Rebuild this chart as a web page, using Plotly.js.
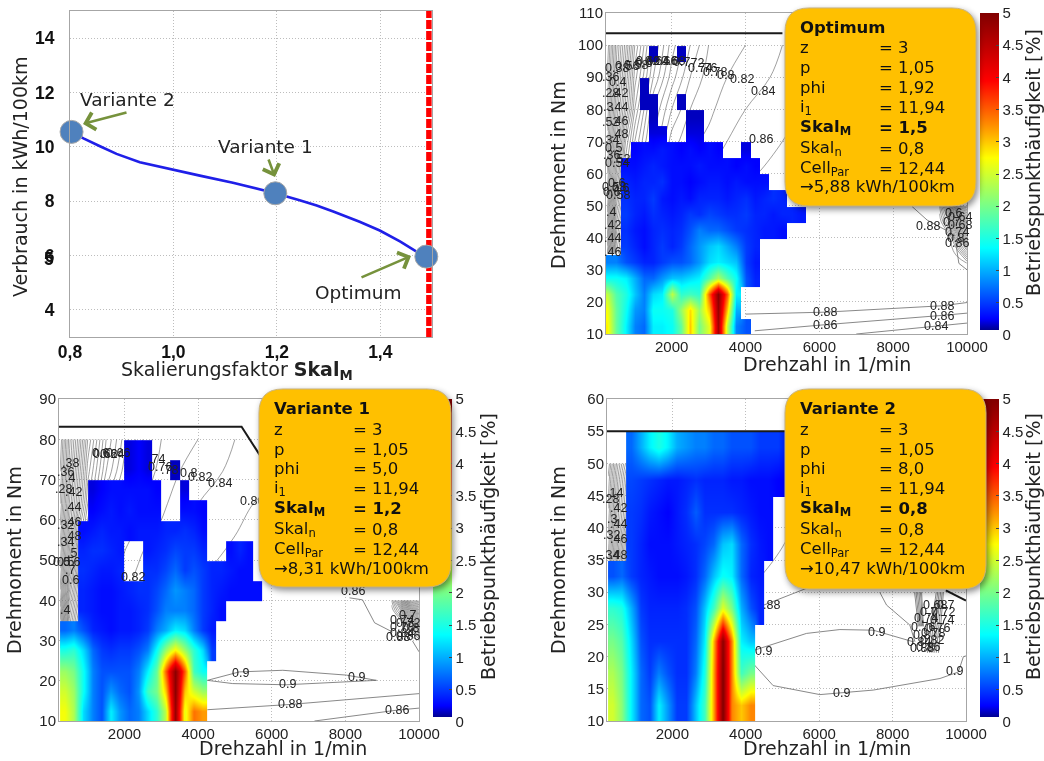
<!DOCTYPE html>
<html><head><meta charset="utf-8">
<script src="https://cdn.plot.ly/plotly-3.0.1.min.js"></script>
<style>
html,body{margin:0;padding:0;background:#fff;width:1044px;height:761px;overflow:hidden}
#chart,#boxes{position:absolute;left:0;top:0;width:1044px;height:761px}
#boxes{pointer-events:none}
#boxes .shapelayer{filter:drop-shadow(2px 3px 3px rgba(0,0,0,.45))}
#chart,#boxes{filter:blur(.35px)}
</style></head><body>
<div id="chart"></div><div id="boxes"></div>
<script>
const _ = null;
/* ---------- consumption curve ---------- */
const skalX = [0.803,0.826,0.858,0.89,0.935,1.0,1.051,1.115,1.197,1.244,1.277,1.309,1.36,1.399,1.438,1.47,1.489];
const verbrauchY = [10.55,10.31,10.02,9.74,9.43,9.14,8.94,8.68,8.29,8.03,7.84,7.62,7.24,6.92,6.52,6.14,5.96];
const pointX = [0.803,1.197,1.489];
const pointY = [10.55,8.29,5.96];
/* ---------- operating-point frequency maps ---------- */
const speedGrid = [250,500,750,1000,1250,1500,1750,2000,2250,2500,2750,3000,3250,3500,3750,4000,4250,4500,4750,5000,5250,5500,5750,6000];
const torqueOpt = [12.5,17.5,22.5,27.5,32.5,37.5,42.5,47.5,52.5,57.5,62.5,67.5,72.5,77.5,82.5,87.5,92.5,97.5,102.5];
const freqOpt = [
[2.8,1.9,1.3,.8,.7,1.3,1.3,1.4,1.9,3.0,2.0,2.6,4.7,2.4,.8,.6,_],
[2.7,1.9,1.4,.9,.8,1.4,1.4,1.5,2.2,2.9,2.2,3.0,4.8,3.0,1.0,_,_],
[2.4,1.8,1.5,1.1,.8,1.2,1.3,2.4,1.6,1.7,1.6,3.5,4.9,3.5,1.3,_,_],
[1.4,1.4,1.3,1.0,.7,.7,.9,1.1,1.1,1.2,1.3,1.8,2.3,1.8,1.4,.6,.4,_],
[.8,.8,.6,.5,.4,.4,.5,.6,.6,.7,.9,1.2,1.3,1.2,1.1,.5,.35,_],
[_,_,.5,.4,.3,.4,.5,.4,.5,.7,.9,1.1,1.2,1.0,.8,.5,.4,_],
[_,_,.45,.35,.3,.4,.45,.4,.45,.6,.8,.7,.7,.6,.5,.45,.4,.35,.35,.3,_],
[_,_,.5,.4,.35,.45,.4,.35,.4,.5,.45,.55,.5,.45,.45,.5,.4,.4,.35,.4,.4,.35,_,_],
[_,_,.45,.4,.4,.5,.35,.3,.35,.3,.4,.4,.4,.35,.4,.45,.35,.4,.45,.4,_],
[_,_,.4,.35,.4,.4,.45,.3,.3,.25,.3,.35,.35,.3,.35,.3,.3,.3,_],
[_,_,.3,.3,.35,.4,.35,.3,.3,.3,.35,.3,.3,.3,.25,.3,.25,_],
[_,_,_,.25,.3,.3,.35,.3,.25,.3,.25,.3,.25,_,_,.2,_],
[_,_,_,_,_,.2,.2,_,_,.2,.2,_],
[_,_,_,_,_,.15,_,_,_,.15,.15,_],
[_,_,_,_,.15,.15,_,_,.15,_],
[_,_,_,_,.15,_],
[_,_,_,_,_,_],
[_,_,_,_,_,.15,_,_,.15,_],
[_,_,_,_,_,_]];
const torqueV1 = [12.5,17.5,22.5,27.5,32.5,37.5,42.5,47.5,52.5,57.5,62.5,67.5,72.5,77.5,82.5];
const freqV1 = [
[2.7,2.3,1.2,.8,.6,1.3,.9,.7,.8,1.2,1.6,2.4,4.8,2.6,3.4,3.2,_],
[2.5,2.2,1.4,.8,.6,.9,.7,.6,.9,1.7,2.0,3.0,4.9,3.0,2.5,2.2,_],
[2.2,2.0,1.4,.8,.6,.6,.6,.6,.8,1.3,1.9,3.5,4.9,3.5,1.7,1.4,_],
[1.5,1.6,1.2,.7,.5,.45,.5,.5,.6,.8,1.4,2.2,2.8,2.2,1.6,1.2,.5,_],
[.7,.8,.6,.4,.35,.3,.35,.35,.4,.5,.8,1.0,1.3,1.2,.8,.5,.35,_],
[_,_,.4,.35,.3,.3,.35,.35,.4,.45,.6,.8,.8,.8,.7,.5,.4,.3,_],
[_,_,.4,.35,.3,.3,.35,.4,.45,.45,.55,.7,.9,.8,.7,.5,.4,.35,.3,.3,.3,.3,_],
[_,_,.45,.4,.35,.35,.4,_,_,.45,.45,.55,.7,.5,.6,.5,.4,.4,.35,.3,.3,_],
[_,_,.4,.45,.45,.4,.35,_,_,.35,.4,.45,.55,.5,.5,.4,_,_,.3,.4,.3,_],
[_,_,.3,.35,.4,.35,.35,.3,.35,.35,.35,.4,.4,.45,.4,.3,_],
[_,_,_,.25,.3,.35,.3,.35,.3,.3,.3,_,_,.3,.3,.25,_],
[_,_,_,.2,.25,.3,.3,.3,.3,.3,.25,_,_,.2,_],
[_,_,_,_,_,_,_,.2,.25,.2,_,_,.15,_],
[_,_,_,_,_,_,_,.2,.25,.2,_],
[_,_,_,_,_,_,_,_,_,_]];
const torqueV2 = [12.5,17.5,22.5,27.5,32.5,37.5,42.5,47.5,52.5,57.5];
const freqV2 = [
[2.5,2.1,1.3,.7,.6,1.3,.9,.5,.5,1.1,1.7,3.2,5,3.3,3.0,3.3,_],
[2.3,2.0,1.3,.7,.5,.8,.6,.45,.45,.8,1.5,3.2,5,3.3,1.7,2.0,_],
[2.0,1.8,1.2,.6,.45,.45,.45,.45,.45,.7,1.3,3.1,4.9,3.3,1.3,1.1,_],
[1.6,1.5,1.0,.5,.4,.4,.4,.4,.45,.6,1.1,1.7,2.6,2.0,1.0,.6,.4,_],
[.6,.7,.5,.4,.35,.3,.3,.3,.35,.45,.7,1.1,1.4,1.3,.7,.4,.35,_],
[_,_,.5,.4,.3,.3,.3,.35,.4,.45,.55,.7,1.1,1.2,.7,.45,.35,.3,_],
[_,_,.5,.45,.35,.3,.25,.35,.45,.65,.45,.45,.45,.45,.4,.35,.3,.3,_],
[_,_,.55,.5,.45,.4,.35,.35,.4,.45,.4,.4,.4,.35,.35,.3,.3,.3,.25,.25,.25,_],
[_,_,.7,1.0,1.3,1.5,1.3,1.0,.9,.8,.8,.7,.7,.6,.6,.6,.5,.5,.5,.4,.4,_],
[_,_,_,_,_,_]];
/* ---------- efficiency map read-outs ---------- */
const effSpeed = [250,500,750,1000,1500,2000,2500,3000,3500,4000,5000,6000];
const effValues = [
[.40,.62,.72,.79,.82,.85,.87,.88,.88,.89,.89,.89],
[.36,.59,.70,.76,.815,.84,.855,.87,.875,.88,.89,.89],
[.31,.52,.64,.71,.80,.82,.84,.85,.86,.87,.88,.88],
[.28,.44,.58,.66,.76,.81,.825,.84,.85,.855,.87,.88],
[.25,.40,.54,.62,.72,.79,.815,.825,.84,.85,.86,.87],
[.22,.36,.47,.58,.70,.76,.80,.815,.83,.84,.855,.865],
[.20,.33,.44,.55,.66,.73,.78,.81,.82,.83,.845,.855],
[.18,.31,.41,.52,.64,.71,.76,.80,.81,.82,.84,.85]];
const effTorqueOpt = [35,40,50,60,70,80,90,100];
const effTorqueV1 = [28,32,40,48,56,64,72,80];
const effTorqueV2 = [18,21,27,32,37,43,48,50];
const edgeSpeed = [9250,9500,9750,10000];
const edgeValues = [
[.89,.89,.88,.86],
[.89,.88,.84,.74],
[.89,.86,.72,.56],
[.88,.78,.58,.40],
[.84,.68,.44,.28]];
const edgeTorqueOpt = [32,36,41,45,50];
const edgeTorqueV1 = [30,32.5,35,37.5,40];
/* single iso-lines outside the fans */
const isoOpt = [
 [[4000,6160,9330,10000],[16.2,16.8,18.8,19.8]],
 [[4250,6160,9330,10000],[11,12.9,15.8,16.5]],
 [[7000,9180,10000],[10,12.5,13.4]],
 [[8513,8920,9420],[49.7,45.5,42.4]],
 [[9700,9780,10000],[38,32,30]]];
const isoV1 = [
 [[4250,5118,6300,8027,8845],[20.1,22.2,22.6,21.4,20.1]],
 [[4250,4936,6390,8027,8845],[20.1,19.3,19,19.7,20.1]],
 [[4250,6480,10000],[12.8,14.1,16.8]],
 [[7160,9410,10000],[10,12.7,13.2]],
 [[8112,8466,8793,9284],[40.6,40.1,34.4,32.1]],
 [[9822,10000],[29.9,27.2]]];
const isoV2 = [
 [[4236,5655,6564,7473,8564],[21,23.6,24.2,24.1,22.3]],
 [[4236,4745,6020,7473,9290,9790,9930,10000],[18.7,15.5,14.1,14.8,16.6,17.6,20,20.1]],
 [[4490,5655],[28,30.6]],
 [[7650,7836,8470,8610],[30,28,24.9,22.3]],
 [[8600,8700],[30,24.7]],[[8640,8730],[30,24.7]],[[8680,8760],[30,24.7]],[[8720,8790],[30,24.7]],[[8760,8820],[30,24.7]],[[8790,8840],[30,24.7]],
 [[9190,8950],[30,20.6]],[[9230,9010],[30,20.6]],[[9270,9070],[30,20.6]],[[9310,9130],[30,20.6]],[[9350,9190],[30,20.6]],[[9385,9250],[30,20.6]]];
/* torque limit */
const limitOpt = [[220,5000],[103.7,103.7]];
const limitV1 = [[220,5180,5645,5900],[83.1,83.1,76.5,73]];
const limitV2a = [[220,5200],[55,55]];
const limitV2b = [[9450,10000],[30.3,28.7]];
/* texts */
const boxHeads = ['Optimum','Variante 1','Variante 2'];
const boxPhi = ['1,92','5,0','8,0'];
const boxSkal = ['1,5','1,2','0,8'];
const boxResult = ['5,88','8,31','10,47'];
const boxKeys = ['z','p','phi','i<sub>1</sub>','<b>Skal<sub>M</sub></b>','Skal<sub>n</sub>','Cell<sub>Par</sub>'];
const ticksSkal = [0.8,1.0,1.2,1.4];
const ticksSkalText = ['0,8','1,0','1,2','1,4'];

/* contour-label placements, given in zoomed (3x) panel coordinates */
const labelsOpt = [[230,205,'0.38'],[212,232,'.36'],[232,245,'0.4'],[210,280,'.28'],[238,280,'.42'],[203,322,'.3'],[238,322,'.44'],[212,365,'.52'],[238,362,'.46'],[238,402,'.48'],[212,420,'.34'],[220,445,'0.5'],[213,465,'.36'],[245,478,'.52'],[232,490,'0.54'],[228,548,'0.6'],[222,560,'0.58'],[240,565,'0.6'],[215,575,'0.6'],[235,585,'0.58'],[214,637,'.4'],[217,675,'.42'],[218,715,'.44'],[218,755,'.46'],[262,197,'0.56'],[288,195,'0.58'],[310,190,'0.6'],[325,183,'0.62'],[350,183,'0.64'],[375,183,'0.66'],[400,183,'0.68'],[425,186,'0.7'],[465,188,'.72'],[480,205,'0.74'],[505,205,'.76'],[525,215,'0.78'],[555,225,'0.8'],[607,236,'0.82'],[668,274,'0.84'],[663,416,'0.86'],[1165,677,'0.88'],[855,937,'0.88'],[855,975,'0.86'],[1205,918,'0.88'],[1205,947,'0.86'],[1188,979,'0.84'],[1240,640,'0.6'],[1260,650,'0.64'],[1235,665,'0.7'],[1260,675,'0.68'],[1250,695,'0.74'],[1245,715,'0.8'],[1250,730,'0.86']];
const labelsV1 = [[300,205,'0.6'],[315,208,'0.62'],[335,207,'0.64'],[355,205,'0.66'],[212,235,'.38'],[195,262,'.36'],[210,278,'.4'],[190,312,'.28'],[220,320,'.42'],[218,365,'.44'],[218,410,'.46'],[195,420,'.32'],[218,452,'.48'],[195,470,'.34'],[215,505,'.5'],[195,530,'0.5'],[215,530,'0.6'],[185,530,'0.5'],[210,555,'.7'],[210,585,'0.6'],[195,675,'.4'],[470,222,'.74'],[480,245,'0.76'],[510,255,'.78'],[565,265,'0.8'],[600,275,'0.82'],[660,293,'0.84'],[755,347,'0.86'],[400,575,'0.82'],[1060,618,'0.86'],[720,865,'0.9'],[1068,875,'0.9'],[862,898,'0.9'],[870,958,'0.88'],[1192,975,'0.86'],[1222,690,'0.7'],[1205,705,'0.74'],[1225,715,'0.72'],[1205,725,'0.78'],[1230,730,'0.8'],[1205,745,'0.84'],[1225,752,'0.86'],[1195,755,'0.88']];
const labelsV2 = [[222,325,'.14'],[212,342,'.28'],[235,370,'.42'],[215,402,'.3'],[235,418,'.44'],[215,450,'.32'],[235,463,'.46'],[235,510,'.48'],[212,510,'.34'],[695,660,'.88'],[1010,742,'0.9'],[670,797,'0.9'],[903,925,'0.9'],[1243,858,'0.9'],[1185,660,'0.68'],[1215,660,'0.7'],[1165,680,'0.7'],[1210,680,'0.72'],[1158,700,'0.74'],[1205,705,'0.74'],[1150,725,'0.76'],[1195,730,'0.76'],[1180,745,'0.78'],[1143,750,'0.8'],[1175,765,'0.82'],[1138,770,'0.84'],[1165,785,'0.86'],[1145,788,'0.88']];

/* ---------- helpers ---------- */
const W = 1044, H = 761;
const dx = (a,b)=>[a/W,b/W];
const dy = (top,bot)=>[1-bot/H,1-top/H];
const FS = 'DejaVu Sans', FT = 'Liberation Sans';
const jet = [[0,'#ffffff'],[0.014,'#ffffff'],[0.015,'#00008f'],[0.05,'#0000ff'],[0.27,'#00ffff'],[0.41,'#80ff80'],[0.55,'#ffff00'],[0.65,'#ff9000'],[0.79,'#ff0000'],[1,'#800000']];
const FRAME = '#a6a6a6', GRID = '#bdbdbd';

function baseAxis(domain, range, extra){
  return Object.assign({domain, range, anchor:'free', showline:true, mirror:true, linecolor:FRAME, linewidth:1,
    showgrid:true, gridcolor:GRID, griddash:'1px,2px', gridwidth:1, zeroline:false, ticks:'',
    tickfont:{family:FT,size:15,color:'#222'}}, extra);
}
function overAxis(domain, range, over){
  return {domain, range, overlaying:over, visible:false, showgrid:false, zeroline:false};
}
const layout = {width:W, height:H, margin:{l:0,r:0,t:0,b:0}, paper_bgcolor:'#fff', plot_bgcolor:'#fff', showlegend:false, annotations:[]};
const traces = [];

/* panel 1 */
layout.xaxis = baseAxis(dx(70,432),[0.8,1.5],{anchor:'y',tickvals:ticksSkal,ticktext:ticksSkalText,ticklabelstandoff:-1,tickfont:{family:FT,size:17.5,color:'#111',weight:'bold'}});
layout.yaxis = baseAxis(dy(11,337),[3,15],{anchor:'x',tickvals:[4,6,8,10,12,14],ticklabelstandoff:11,tickfont:{family:FT,size:17.5,color:'#111',weight:'bold'}});
traces.push({type:'scatter',mode:'lines',x:[1.494,1.494],y:[3,15],xaxis:'x',yaxis:'y',line:{color:'#ff0000',width:5.5,dash:'9px,2px'},hoverinfo:'skip'});
traces.push({type:'scatter',mode:'lines',x:skalX,y:verbrauchY,xaxis:'x',yaxis:'y',line:{color:'#1f1fe8',width:2.6},hoverinfo:'skip'});
traces.push({type:'scatter',mode:'markers',x:pointX,y:pointY,xaxis:'x',yaxis:'y',cliponaxis:false,marker:{size:23,color:'#4f81bd',line:{color:'#a8a8a8',width:1}},hoverinfo:'skip'});

/* map panels */
const panels = [
 {ax:2,ov:5,px:[606,967],py:[13,334],yr:[10,110],yt:[10,20,30,40,50,60,70,80,90,100,110],tq:torqueOpt,fq:freqOpt,
  effY:effTorqueOpt,edgeY:edgeTorqueOpt,iso:isoOpt,lim:[limitOpt],cb:[980,13,322]},
 {ax:3,ov:6,px:[59,419],py:[399,721],yr:[10,90],yt:[10,20,30,40,50,60,70,80,90],tq:torqueV1,fq:freqV1,
  effY:effTorqueV1,edgeY:edgeTorqueV1,iso:isoV1,lim:[limitV1],cb:[433,399,323]},
 {ax:4,ov:7,px:[607,966],py:[399,721],yr:[10,60],yt:[10,15,20,25,30,35,40,45,50,55,60],tq:torqueV2,fq:freqV2,
  effY:effTorqueV2,edgeY:null,iso:isoV2,lim:[limitV2a,limitV2b],cb:[980,399,323]}
];
const grey = [[0,'#5f5f5f'],[1,'#5f5f5f']];
panels.forEach(p=>{
  const xr=[220,10000], xn='x'+p.ax, yn='y'+p.ax, xo='x'+p.ov, yo='y'+p.ov;
  layout['xaxis'+p.ax]=baseAxis(dx(p.px[0],p.px[1]),xr,{anchor:yn,tickvals:[2000,4000,6000,8000,10000],ticktext:['2000','4000','6000','8000','10000'],ticklabelstandoff:-1});
  layout['yaxis'+p.ax]=baseAxis(dy(p.py[0],p.py[1]),p.yr,{anchor:xn,tickvals:p.yt,ticklabelstandoff:-1});
  layout['xaxis'+p.ov]=overAxis(dx(p.px[0],p.px[1]),xr,xn);
  layout['yaxis'+p.ov]=overAxis(dy(p.py[0],p.py[1]),p.yr,yn);
  const cLine={width:.6};
  traces.push({type:'contour',x:effSpeed,y:p.effY,z:effValues,xaxis:xn,yaxis:yn,showscale:false,hoverinfo:'skip',autocontour:false,colorscale:grey,
    contours:{coloring:'lines',start:.18,end:.86,size:.02,showlabels:false},line:cLine});
  if(p.edgeY) traces.push({type:'contour',x:edgeSpeed,y:p.edgeY,z:edgeValues,xaxis:xn,yaxis:yn,showscale:false,hoverinfo:'skip',autocontour:false,colorscale:grey,
    contours:{coloring:'lines',start:.3,end:.86,size:.02,showlabels:false},line:cLine});
  p.iso.forEach(l=>traces.push({type:'scatter',mode:'lines',x:l[0],y:l[1],xaxis:xn,yaxis:yn,line:{color:'#6a6a6a',width:.8},hoverinfo:'skip'}));
  traces.push({type:'heatmap',x:speedGrid,y:p.tq,z:p.fq,xaxis:xo,yaxis:yo,zmin:0,zmax:5,zsmooth:'best',colorscale:jet,hoverinfo:'skip',
    colorbar:{x:p.cb[0]/W,xanchor:'left',xpad:0,ypad:0,y:1-(p.cb[1]+p.cb[2])/H,yanchor:'bottom',len:p.cb[2],lenmode:'pixels',thickness:19,thicknessmode:'pixels',
      outlinewidth:0,tickvals:[0,.5,1,1.5,2,2.5,3,3.5,4,4.5,5],ticktext:['0','0.5','1','1.5','2','2.5','3','3.5','4','4.5','5'],ticks:'inside',ticklen:3,tickcolor:'#444',
      tickfont:{family:FT,size:15,color:'#222'}}});
  p.lim.forEach(l=>traces.push({type:'scatter',mode:'lines',x:l[0],y:l[1],xaxis:xo,yaxis:yo,line:{color:'#1a1a1a',width:2},hoverinfo:'skip'}));
});

/* annotations */
const A = layout.annotations;
function txt(px,py,text,size,family,opts){
  A.push(Object.assign({xref:'paper',yref:'paper',x:px/W,y:1-py/H,text,showarrow:false,xanchor:'center',yanchor:'middle',
    font:{family,size,color:'#222'}},opts||{}));
}
[[labelsOpt,540,0],[labelsV1,0,385],[labelsV2,540,385]].forEach(([list,ox,oy])=>{
  list.forEach(l=>txt(ox+l[0]/3,oy+l[1]/3,l[2],12.5,FT));
});
txt(237,370,'Skalierungsfaktor <b>Skal<sub>M</sub></b>',19,FS);
txt(20,177,'Verbrauch in kWh/100km',19,FS,{textangle:-90});
txt(827,364,'Drehzahl in 1/min',19,FS);
txt(283,748,'Drehzahl in 1/min',19,FS);
txt(827,748,'Drehzahl in 1/min',19,FS);
txt(558,175,'Drehmoment in Nm',19,FS,{textangle:-90});
txt(14,560,'Drehmoment in Nm',19,FS,{textangle:-90});
txt(558,560,'Drehmoment in Nm',19,FS,{textangle:-90});
txt(1033,163,'Betriebspunkthäufigkeit [%]',19,FS,{textangle:-90});
txt(488,547,'Betriebspunkthäufigkeit [%]',19,FS,{textangle:-90});
txt(1033,547,'Betriebspunkthäufigkeit [%]',19,FS,{textangle:-90});
txt(127,100,'Variante 2',18.5,FS);
txt(265,146,'Variante 1',18.5,FS);
txt(358,292,'Optimum',18.5,FS);
txt(49,259,'5',17.5,FT,{font:{family:FT,size:17.5,color:'#111',weight:'bold'}});
function arrow(tx,ty,hx,hy){
  A.push({xref:'paper',yref:'paper',x:hx/W,y:1-hy/H,axref:'pixel',ayref:'pixel',ax:tx-hx,ay:ty-hy,text:'',showarrow:true,
    arrowhead:4,arrowsize:1.3,arrowwidth:2.6,arrowcolor:'#76923c'});
}
arrow(128,112,83,124);
arrow(268,158,275,177);
arrow(360,278,411,256);

Plotly.newPlot('chart',traces,layout,{displayModeBar:false,staticPlot:true});

/* info boxes in their own layer above the colour bars */
const boxGeom = [[785,8,976,206,798,877],[259,389,451,587,272,351],[785,389,986,589,798,877]];
const lineOffs = [19,40,60,79,99,119,140,160,179];
const L2 = {width:W,height:H,margin:{l:0,r:0,t:0,b:0},paper_bgcolor:'rgba(0,0,0,0)',plot_bgcolor:'rgba(0,0,0,0)',
  xaxis:{visible:false},yaxis:{visible:false},shapes:[],annotations:[]};
function rr(x0,y0,x1,y1,r){
  const X=v=>(v/W).toFixed(5),Y=v=>(1-v/H).toFixed(5);
  return `M${X(x0+r)},${Y(y0)}L${X(x1-r)},${Y(y0)}Q${X(x1)},${Y(y0)} ${X(x1)},${Y(y0+r)}L${X(x1)},${Y(y1-r)}Q${X(x1)},${Y(y1)} ${X(x1-r)},${Y(y1)}L${X(x0+r)},${Y(y1)}Q${X(x0)},${Y(y1)} ${X(x0)},${Y(y1-r)}L${X(x0)},${Y(y0+r)}Q${X(x0)},${Y(y0)} ${X(x0+r)},${Y(y0)}Z`;
}
boxGeom.forEach((g,i)=>{
  const [x0,y0,x1,y1,tx,vx]=g;
  L2.shapes.push({type:'path',xref:'paper',yref:'paper',path:rr(x0,y0,x1,y1,24),fillcolor:'#FFC000',line:{color:'#c9b27a',width:1}});
  const vals=['= 3','= 1,05','= '+boxPhi[i],'= 11,94','<b>= '+boxSkal[i]+'</b>','= 0,8','= 12,44'];
  const t=(px,py,text)=>L2.annotations.push({xref:'paper',yref:'paper',x:px/W,y:1-py/H,text,showarrow:false,xanchor:'left',yanchor:'middle',font:{family:FS,size:16.5,color:'#111'}});
  t(tx,y0+lineOffs[0],'<b>'+boxHeads[i]+'</b>');
  boxKeys.forEach((k,j)=>{ t(tx,y0+lineOffs[j+1],k); t(vx,y0+lineOffs[j+1],vals[j]); });
  t(tx,y0+lineOffs[8],'→'+boxResult[i]+' kWh/100km');
});
Plotly.newPlot('boxes',[],L2,{displayModeBar:false,staticPlot:true});
</script></body></html>
